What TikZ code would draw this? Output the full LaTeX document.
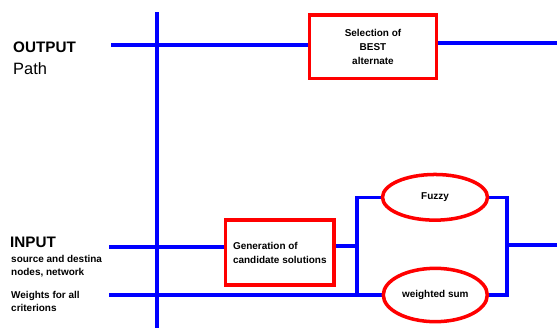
\documentclass[tikz,border=0pt]{standalone}
\usepackage{fontspec}
\setmainfont{Liberation Sans}
\usetikzlibrary{shapes.geometric,backgrounds}
\definecolor{wireblue}{HTML}{0000FF}
\definecolor{boxred}{HTML}{FF0000}

\begin{document}
\begin{tikzpicture}[x=0.03cm,y=-0.03cm,
  wire/.style={wireblue,line width=3pt},
  stagebox/.style={draw=boxred,line width=3pt,fill=white,inner sep=0pt,font=\fontsize{8.5}{11.9}\selectfont\bfseries},
  method/.style={stagebox,ellipse},
  lbl/.style={anchor=base west,inner sep=0pt,font=\fontsize{8.5}{11.9}\selectfont\bfseries}]
  \useasboundingbox (0,0) rectangle (557,329);
  % stages
  \node[stagebox,minimum width=3.81cm,minimum height=1.9cm,align=center] (sel) at (373,46.7) {Selection of\\BEST\\alternate};
  \node[stagebox,minimum width=3.26cm,minimum height=1.95cm,align=left] (gen) at (279.8,252.5) {Generation of\\candidate solutions};
  \node[method,minimum width=3.15cm,minimum height=1.37cm] (fuzzy) at (435,197.3) {Fuzzy};
  \node[method,minimum width=3.12cm,minimum height=1.6cm] (wsum) at (435.3,295) {weighted sum};
  % labels on the left
  \node[lbl,font=\fontsize{13}{16}\selectfont\bfseries] (outlbl) at (13,52) {OUTPUT};
  \node[lbl,font=\fontsize{14}{16}\selectfont] (pathlbl) at (13,74) {Path};
  \node[lbl,font=\fontsize{13}{16}\selectfont\bfseries] (inlbl) at (10,247) {INPUT};
  \node[lbl] (src1) at (11,262) {source and destina};
  \node[lbl] (src2) at (11,275) {nodes, network};
  \node[lbl] (wgt1) at (11,298) {Weights for all};
  \node[lbl] (wgt2) at (11,311) {criterions};
  % wires
  \begin{scope}[on background layer]
    \coordinate (vtop) at (157,12);
    \coordinate (vbot) at (157,328);
    \draw[wire] (vtop) -- (vbot);
    \coordinate (outL) at (111,45);
    \draw[wire] (outL) -- (sel.west |- outL);
    \coordinate (outR) at (557,43);
    \draw[wire] (sel.east |- outR) -- (outR);
    \coordinate (inL) at (109,247);
    \draw[wire] (inL) -- (gen.west |- inL);
    \coordinate (wL) at (109,295);
    \draw[wire] (wL) -- (wsum.west);
    \coordinate (jl) at (357,246);
    \draw[wire] (gen.east |- jl) -- (jl);
    \draw[wire] (fuzzy.west) -| (jl) |- (wsum.west);
    \coordinate (jr) at (507,245);
    \draw[wire] (fuzzy.east) -| (jr) |- (wsum.east);
    \coordinate (endR) at (557,245);
    \draw[wire] (jr) -- (endR);
  \end{scope}
\end{tikzpicture}
\end{document}
